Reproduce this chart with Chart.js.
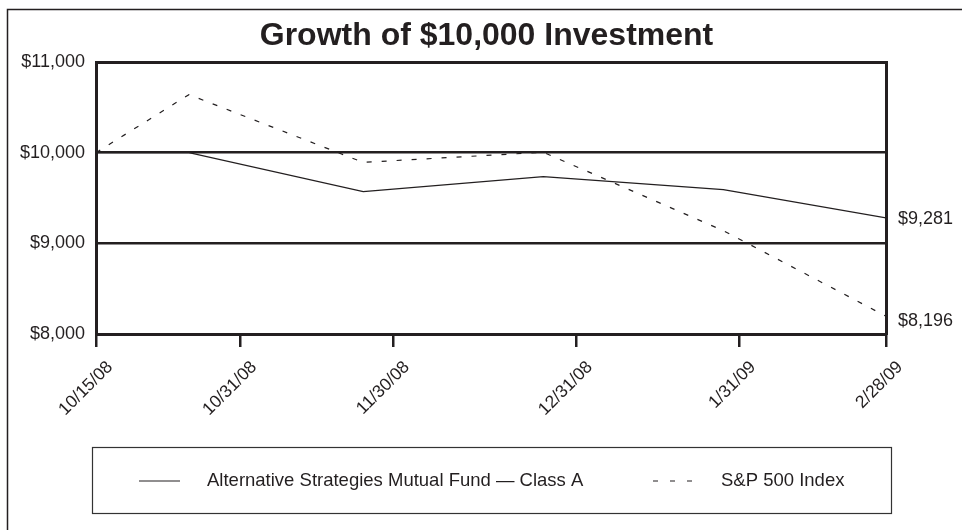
<!DOCTYPE html>
<html><head><meta charset="utf-8">
<script src="https://cdn.jsdelivr.net/npm/chart.js@4.4.1/dist/chart.umd.min.js"></script>
<style>html,body{margin:0;padding:0;background:#fff;overflow:hidden}</style>
</head><body><canvas id="c" width="962" height="530"></canvas>
<script>
const chartTitle = 'Growth of $10,000 Investment';
const valuationDates = ['2008-10-15', '2008-10-31', '2008-11-30', '2008-12-31', '2009-01-31', '2009-02-28'];
const fundLabel = 'Alternative Strategies Mutual Fund — Class A';
const fundValues = [10000, 10000, 9571, 9736, 9593, 9281];
const indexLabel = 'S&P 500 Index';
const indexValues = [10000, 10640, 9893, 10005, 9140, 8196];
const xTickLabels = ['10/15/08', '10/31/08', '11/30/08', '12/31/08', '1/31/09', '2/28/09'];
const xTickDays = [0, 24.8, 51.1, 82.6, 110.7, 136];
const yTickValues = [8000, 9000, 10000, 11000];

const INK = '#231f20';
const FONT = "'Liberation Sans', Arial, Helvetica, sans-serif";
const days = valuationDates.map(d => Math.round((Date.parse(d) - Date.parse(valuationDates[0])) / 86400000));
const toPoints = vals => vals.map((v, i) => ({x: days[i], y: v}));
const money = v => '$' + Number(v).toLocaleString('en-US');

const decorPlugin = {
  id: 'decor',
  afterDraw(chart) {
    const c = chart.ctx;
    c.save();
    // outer frame
    c.strokeStyle = INK; c.lineWidth = 1.5; c.setLineDash([]);
    c.beginPath(); c.moveTo(7.5, 530); c.lineTo(7.5, 9.5); c.lineTo(962, 9.5); c.stroke();
    // end value labels
    c.fillStyle = INK; c.font = '18px ' + FONT; c.textBaseline = 'middle'; c.textAlign = 'left';
    chart.data.datasets.forEach((ds, i) => {
      const meta = chart.getDatasetMeta(i);
      const pt = meta.data[meta.data.length - 1];
      const v = ds.data[ds.data.length - 1].y;
      c.fillText(money(v), pt.x + 12, pt.y + (i === 1 ? 5 : 1));
    });
    // legend box
    c.strokeStyle = '#333'; c.lineWidth = 1.2;
    c.strokeRect(92.5, 447.5, 799, 66);
    const items = [{x: 139, w: 41, tx: 207}, {x: 653, w: 40, tx: 721}];
    const ly = 481;
    c.font = '18.5px ' + FONT;
    chart.data.datasets.forEach((ds, i) => {
      const it = items[i];
      c.strokeStyle = ds.borderColor; c.lineWidth = 1.2;
      c.setLineDash(ds.borderDash ? [5, 12] : []);
      c.beginPath(); c.moveTo(it.x, ly); c.lineTo(it.x + it.w, ly); c.stroke();
      c.setLineDash([]);
      c.fillText(ds.label, it.tx, ly);
    });
    c.restore();
  }
};

new Chart(document.getElementById('c'), {
  type: 'line',
  data: {
    datasets: [
      {label: fundLabel, data: toPoints(fundValues), borderColor: INK, borderWidth: 1.3, pointRadius: 0, fill: false, tension: 0},
      {label: indexLabel, data: toPoints(indexValues), borderColor: INK, borderWidth: 1.2, borderDash: [5, 10], pointRadius: 0, fill: false, tension: 0}
    ]
  },
  options: {
    responsive: false,
    animation: false,
    layout: {padding: {left: 11, right: 0, top: 12, bottom: 0}},
    plugins: {
      legend: {display: false},
      tooltip: {enabled: false},
      title: {display: true, text: chartTitle, color: INK, font: {family: FONT, size: 32, weight: 'bold'}, padding: {top: 5, bottom: 6.6}}
    },
    scales: {
      x: {
        type: 'linear', min: 0, max: days[days.length - 1],
        afterBuildTicks: s => { s.ticks = xTickDays.map(v => ({value: v})); },
        afterFit: s => { s.height = 196; },
        grid: {drawOnChartArea: false, drawTicks: true, tickLength: 13, tickWidth: 2.5, tickColor: INK, color: INK, lineWidth: 2.5},
        border: {display: true, color: INK, width: 3},
        ticks: {autoSkip: false, maxRotation: 45, minRotation: 45, color: INK, font: {family: FONT, size: 17.5}, padding: 10, labelOffset: 14,
          callback: (v, i) => xTickLabels[i]}
      },
      y: {
        min: 8000, max: 11000,
        afterBuildTicks: s => { s.ticks = yTickValues.map(v => ({value: v})); },
        afterFit: s => { s.width = 85; },
        grid: {color: INK, lineWidth: ctx => (ctx.tick && (ctx.tick.value === 8000 || ctx.tick.value === 11000)) ? 3 : 2.5, drawTicks: false},
        border: {display: true, color: INK, width: 3},
        ticks: {padding: 11, color: INK, font: {family: FONT, size: 18}, callback: v => money(v)}
      },
      y2: {
        position: 'right', min: 8000, max: 11000,
        afterFit: s => { s.width = 76; },
        grid: {display: false},
        ticks: {display: false},
        border: {display: true, color: INK, width: 3}
      }
    }
  },
  plugins: [decorPlugin]
});
</script>
</body></html>
